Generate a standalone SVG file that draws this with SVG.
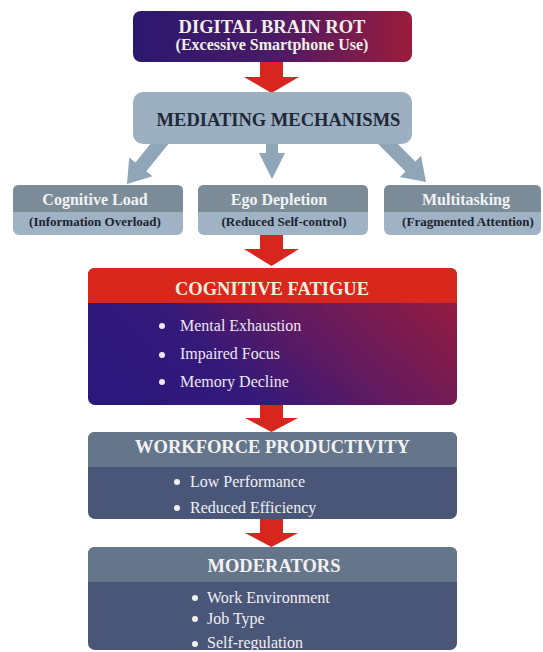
<svg xmlns="http://www.w3.org/2000/svg" width="543" height="652" viewBox="0 0 543 652">
<defs>
<linearGradient id="gTop" x1="0" y1="0" x2="1" y2="0">
<stop offset="0" stop-color="#2a186e"/>
<stop offset="0.5" stop-color="#4a1a66"/>
<stop offset="1" stop-color="#9b1c3c"/>
</linearGradient>
<linearGradient id="gFat" x1="0" y1="0.7" x2="1" y2="0.3">
<stop offset="0" stop-color="#2a187c"/>
<stop offset="0.3" stop-color="#34197a"/>
<stop offset="0.6" stop-color="#611a60"/>
<stop offset="1" stop-color="#921c42"/>
</linearGradient>
<path id="grayArrow" d="M-7,-64 L7,-64 L7,-22 L15,-22 L0,0 L-15,-22 L-7,-22 Z"/>
</defs>
<style>
.hd{font-family:"Liberation Serif","Times New Roman",serif;font-weight:bold;text-anchor:middle}
.bl{font-family:"Liberation Serif","Times New Roman",serif;font-size:16px}
.red{fill:#d8261e}
.gray{fill:#8fa5b8}
.sub{font-family:"Liberation Serif","Times New Roman",serif;font-weight:bold;text-anchor:middle;font-size:13px;fill:#1c2430}
.st{font-family:"Liberation Serif","Times New Roman",serif;font-weight:bold;text-anchor:middle;font-size:16px;fill:#f0f2f4}
</style>
<rect width="543" height="652" fill="#ffffff"/>

<g id="connectors">
<path class="red" d="M260,58 L283,58 L283,77 L299,77 L271.5,93 L244,77 L260,77 Z"/>
<use href="#grayArrow" class="gray" transform="translate(127,184) rotate(39)"/>
<path class="gray" d="M266,140 L278,140 L278,153 L285,153 L272,179 L259,153 L266,153 Z"/>
<use href="#grayArrow" class="gray" transform="translate(426,182) rotate(-45)"/>
<path class="red" d="M260,232 L283,232 L283,249 L299,249 L271.5,266 L244,249 L260,249 Z"/>
<path class="red" d="M260,401 L283,401 L283,418 L298,418 L271.5,432 L245,418 L260,418 Z"/>
<path class="red" d="M260,515 L283,515 L283,533 L298,533 L271.5,547 L245,533 L260,533 Z"/>
</g>

<g id="digital-brain-rot">
<rect x="133" y="11" width="279" height="51" rx="8" fill="url(#gTop)"/>
<text class="hd" x="272" y="33" font-size="18.5" fill="#f2efe8">DIGITAL BRAIN ROT</text>
<text class="hd" x="272" y="50" font-size="16" fill="#f2efe8">(Excessive Smartphone Use)</text>
</g>

<g id="mediating-mechanisms">
<rect x="133" y="92" width="279" height="52" rx="10" fill="#9cb0c1"/>
<text class="hd" x="278.5" y="126" font-size="18.5" fill="#1e2838">MEDIATING MECHANISMS</text>
</g>

<g id="cognitive-load">
<rect x="13" y="185" width="170" height="50" rx="6" fill="#9fb3c4"/>
<path d="M13,212 L13,191 Q13,185 19,185 L177,185 Q183,185 183,191 L183,212 Z" fill="#7b8c98"/>
<text class="st" x="95" y="205">Cognitive Load</text>
<text class="sub" x="95" y="226">(Information Overload)</text>
</g>

<g id="ego-depletion">
<rect x="198" y="185" width="170" height="50" rx="6" fill="#9fb3c4"/>
<path d="M198,212 L198,191 Q198,185 204,185 L362,185 Q368,185 368,191 L368,212 Z" fill="#7b8c98"/>
<text class="st" x="279" y="205">Ego Depletion</text>
<text class="sub" x="284" y="226">(Reduced Self-control)</text>
</g>

<g id="multitasking">
<rect x="384" y="185" width="157" height="50" rx="6" fill="#9fb3c4"/>
<path d="M384,212 L384,191 Q384,185 390,185 L535,185 Q541,185 541,191 L541,212 Z" fill="#7b8c98"/>
<text class="st" x="466" y="205">Multitasking</text>
<text class="sub" x="468" y="226">(Fragmented Attention)</text>
</g>

<g id="cognitive-fatigue">
<rect x="88" y="268" width="369" height="137" rx="7" fill="url(#gFat)"/>
<path d="M88,303 L88,275 Q88,268 95,268 L450,268 Q457,268 457,275 L457,303 Z" fill="#d9271d"/>
<text class="hd" x="272" y="295" font-size="18.5" fill="#f6eedf">COGNITIVE FATIGUE</text>
<g fill="#ece8f2">
<circle cx="162" cy="326" r="3"/>
<circle cx="162" cy="355" r="3"/>
<circle cx="162" cy="382" r="3"/>
<text class="bl" x="180" y="331">Mental Exhaustion</text>
<text class="bl" x="180" y="359">Impaired Focus</text>
<text class="bl" x="180" y="387">Memory Decline</text>
</g>
</g>

<g id="workforce-productivity">
<rect x="88" y="432" width="369" height="87" rx="7" fill="#4a5678"/>
<path d="M88,467 L88,439 Q88,432 95,432 L450,432 Q457,432 457,439 L457,467 Z" fill="#65758a"/>
<text class="hd" x="272.5" y="453" font-size="18.5" fill="#f2f2f2">WORKFORCE PRODUCTIVITY</text>
<g fill="#f0f0f4">
<circle cx="177" cy="482" r="3"/>
<circle cx="177" cy="508" r="3"/>
<text class="bl" x="190" y="487">Low Performance</text>
<text class="bl" x="190" y="513">Reduced Efficiency</text>
</g>
</g>

<g id="moderators">
<rect x="88" y="547" width="369" height="103" rx="7" fill="#4a5678"/>
<path d="M88,582 L88,554 Q88,547 95,547 L450,547 Q457,547 457,554 L457,582 Z" fill="#65758a"/>
<text class="hd" x="274" y="572" font-size="18.5" fill="#f2f2f2">MODERATORS</text>
<g fill="#f0f0f4">
<circle cx="195" cy="598" r="3"/>
<circle cx="195" cy="619" r="3"/>
<circle cx="195" cy="644" r="3"/>
<text class="bl" x="207" y="603">Work Environment</text>
<text class="bl" x="207" y="624">Job Type</text>
<text class="bl" x="207" y="648">Self-regulation</text>
</g>
</g>
</svg>
